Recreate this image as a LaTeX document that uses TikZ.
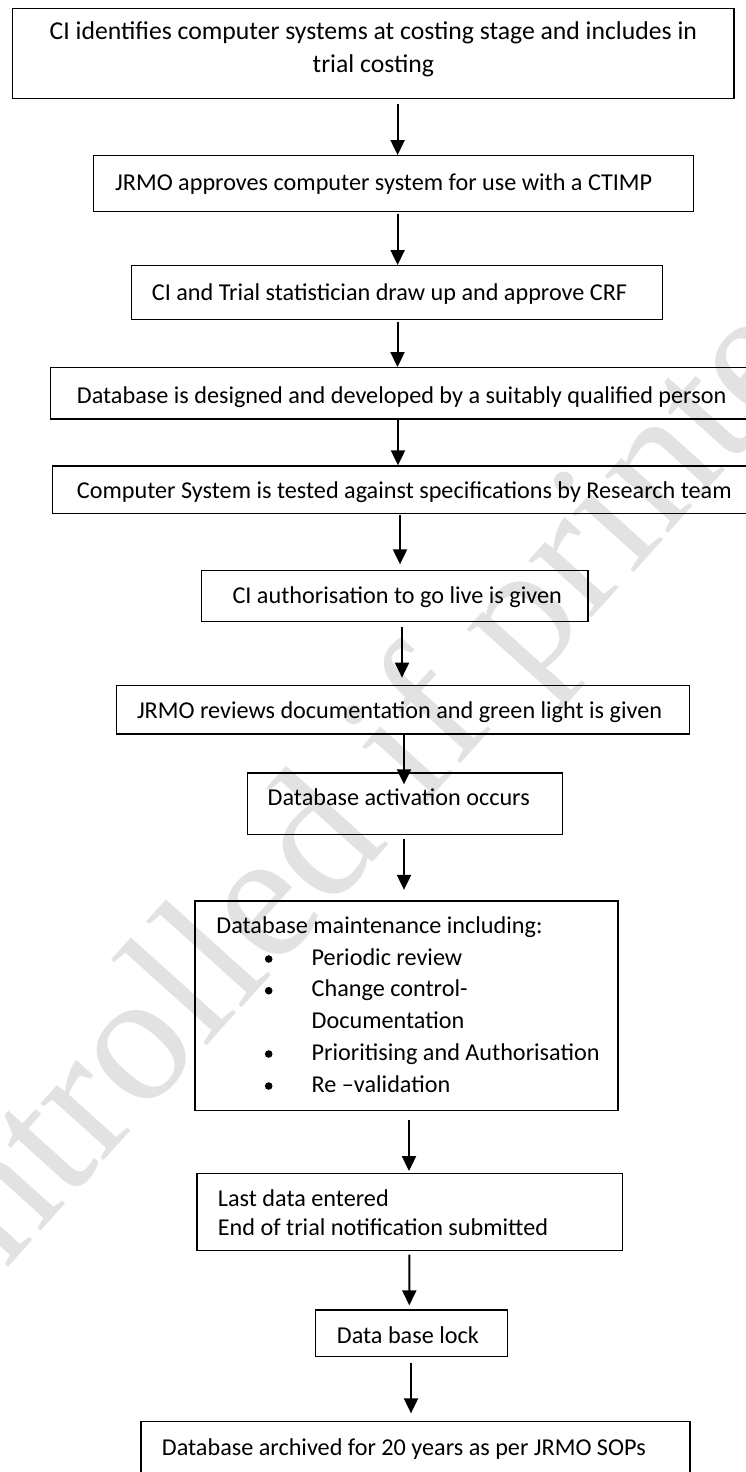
\documentclass[tikz,border=0pt]{standalone}
\usepackage{fontspec}
\setmainfont{Carlito}
\newfontfamily\wmfont{Liberation Serif}
\usetikzlibrary{arrows.meta}
\definecolor{wmgray}{RGB}{226,226,226}
\begin{document}
\begin{tikzpicture}[x=1pt,y=-1pt,
  box/.style={draw=black, line width=1.3pt, rectangle, inner sep=0pt},
  txt/.style={inner sep=0pt, anchor=base west, font=\fontsize{24.2pt}{29pt}\selectfont},
  bigtxt/.style={inner sep=0pt, anchor=base, font=\fontsize{25.7pt}{31pt}\selectfont},
  bul/.style={circle, fill=black, inner sep=0pt, minimum size=7.6pt},
  arr/.style={line width=2pt, -{Triangle[width=14pt,length=15pt]}},
  wm/.style={inner sep=0pt, anchor=base west, text=wmgray, font=\wmfont\fontsize{185pt}{185pt}\selectfont}]
\useasboundingbox (0,0) rectangle (745,1472);
\fill[white] (0,0) rectangle (745,1472);
% watermark
\begin{scope}
\clip (0,0) rectangle (745,1472);
\node[wm, rotate=48] (wmark) at (-263,1568) {Uncontrolled if printed};
\end{scope}
% boxes
\node[box, minimum width=721.3pt, minimum height=90pt] (b1) at (373.35,53.3) {};
\node[box, minimum width=599.9pt, minimum height=55.6pt] (b2) at (393.35,183.5) {};
\node[box, minimum width=530.6pt, minimum height=53.8pt] (b3) at (397,292.6) {};
\node[box, minimum width=699.3pt, minimum height=51.3pt] (b4) at (400.35,393.35) {};
\node[box, minimum width=697.3pt, minimum height=47.3pt] (b5) at (401.35,489.65) {};
\node[box, minimum width=386.3pt, minimum height=51pt] (b6) at (394.85,596.2) {};
\node[box, minimum width=572.9pt, minimum height=48.5pt] (b7) at (402.85,709.75) {};
\node[box, minimum width=314.8pt, minimum height=61.3pt] (b8) at (404.9,803.65) {};
\node[box, minimum width=423pt, minimum height=209.7pt] (b9) at (406.5,1005.85) {};
\node[box, minimum width=425.3pt, minimum height=77.4pt] (b10) at (409.65,1212) {};
\node[box, minimum width=192pt, minimum height=46.7pt] (b11) at (411.7,1333.35) {};
\node[box, minimum width=549pt, minimum height=58.3pt] (b12) at (415.5,1450.85) {};
% texts
\node[bigtxt] (t1a) at (373.35,40) {CI identifies computer systems at costing stage and includes in};
\node[bigtxt] (t1b) at (373.35,72) {trial costing};
\node[txt] (t2) at (115,190) {JRMO approves computer system for use with a CTIMP};
\node[txt] (t3) at (151.7,300) {CI and Trial statistician draw up and approve CRF};
\node[txt] (t4) at (76.7,403.3) {Database is designed and developed by a suitably qualified person};
\node[txt] (t5) at (76.7,498.3) {Computer System is tested against specifications by Research team};
\node[txt] (t6) at (232.3,603.3) {CI authorisation to go live is given};
\node[txt] (t7) at (136.8,718.3) {JRMO reviews documentation and green light is given};
\node[txt] (t8) at (267.5,805) {Database activation occurs};
\node[txt] (t9) at (216.2,933.3) {Database maintenance including:};
\node[txt] (t9a) at (311.5,965) {Periodic review};
\node[txt] (t9b) at (311.5,996.7) {Change control-};
\node[txt] (t9c) at (311.5,1028.3) {Documentation};
\node[txt] (t9d) at (311.5,1060) {Prioritising and Authorisation};
\node[txt] (t9e) at (311.5,1092) {Re –validation};
\node[bul] (u1) at (268.7,959) {};
\node[bul] (u2) at (268.7,990.7) {};
\node[bul] (u3) at (268.7,1054) {};
\node[bul] (u4) at (268.7,1086) {};
\node[txt] (t10a) at (217.7,1206.7) {Last data entered};
\node[txt] (t10b) at (217.7,1235.7) {End of trial notification submitted};
\node[txt] (t11) at (336.7,1343.3) {Data base lock};
\node[txt] (t12) at (161.7,1455) {Database archived for 20 years as per JRMO SOPs};
% arrows
\draw[arr] ([xshift=24.25pt,yshift=-4.7pt]b1.south) -- ([xshift=4.25pt]b2.north);
\draw[arr] ([xshift=4.25pt,yshift=-1.7pt]b2.south) -- ([xshift=0.6pt]b3.north);
\draw[arr] ([xshift=0.5pt,yshift=-1.5pt]b3.south) -- ([xshift=-2.85pt]b4.north);
\draw[arr] ([xshift=-2.35pt]b4.south) -- ([xshift=-3.35pt]b5.north);
\draw[arr] ([xshift=-1.35pt,yshift=-0.7pt]b5.south) -- ([xshift=5.15pt,yshift=5.7pt]b6.north);
\draw[arr] ([xshift=7.15pt,yshift=-5pt]b6.south) -- ([xshift=-0.85pt,yshift=7.2pt]b7.north);
\draw[arr] ([xshift=1.15pt]b7.south) -- ([xshift=-0.9pt,yshift=-12pt]b8.north);
\draw[arr] ([xshift=-0.9pt,yshift=-4pt]b8.south) -- ([xshift=-2.5pt,yshift=10.5pt]b9.north);
\draw[arr] ([xshift=2.5pt,yshift=-8.6pt]b9.south) -- ([xshift=-0.65pt,yshift=1.6pt]b10.north);
\draw[arr] ([xshift=-0.35pt,yshift=-3.3pt]b10.south) -- ([xshift=-2.4pt,yshift=4pt]b11.north);
\draw[arr] ([xshift=-0.7pt,yshift=-5.6pt]b11.south) -- ([xshift=-4.5pt,yshift=7.7pt]b12.north);
\end{tikzpicture}
\end{document}
